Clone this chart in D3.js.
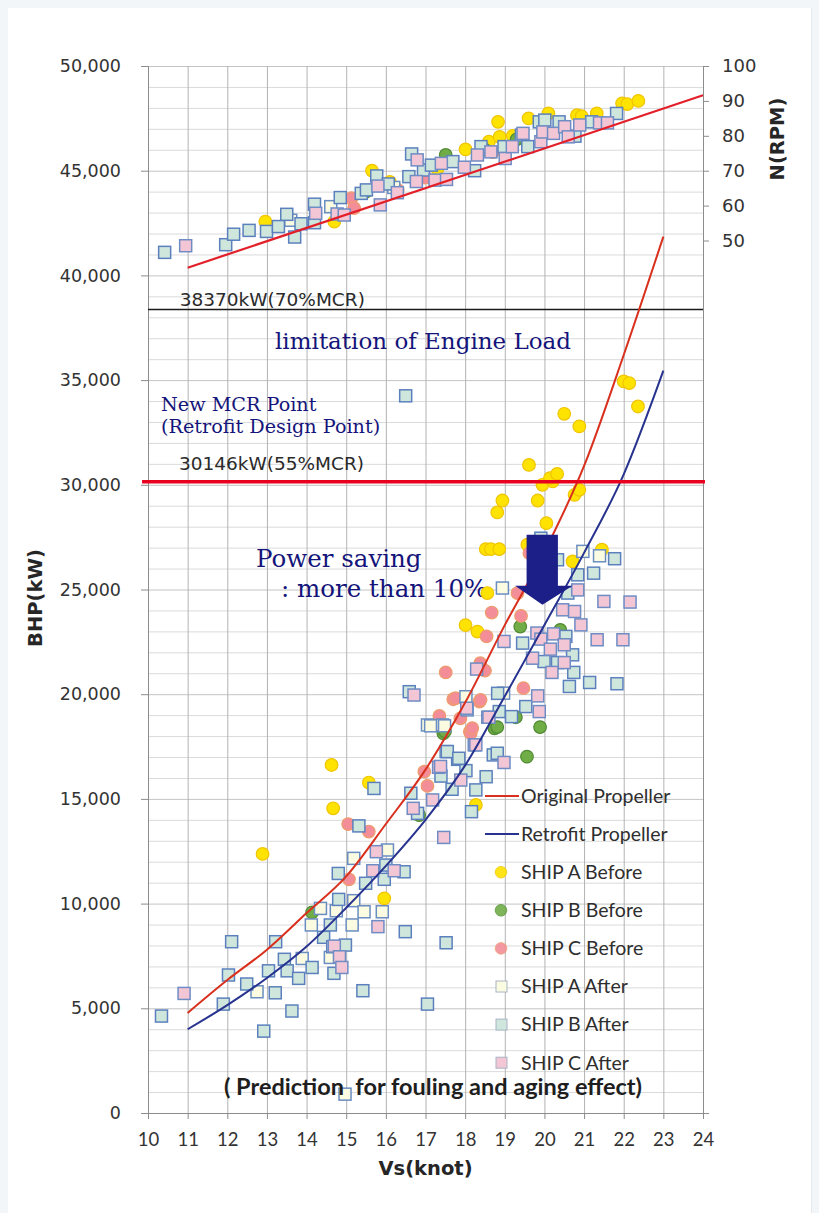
<!DOCTYPE html>
<html>
<head>
<meta charset="utf-8">
<script src="https://cdn.jsdelivr.net/npm/d3@7"></script>
<style>
  html, body { margin: 0; padding: 0; background: #f3f6f8; }
  svg { display: block; }
</style>
</head>
<body>
<div id="chart"></div>
<script>
const CHART_WIDTH = 819;
const CHART_HEIGHT = 1213;

// ---- data ----
const xTicks = [10, 11, 12, 13, 14, 15, 16, 17, 18, 19, 20, 21, 22, 23, 24]; // Vs(knot)
const bhpTicks = [0, 5000, 10000, 15000, 20000, 25000, 30000, 35000, 40000, 45000, 50000];
const rpmTicks = [50, 60, 70, 80, 90, 100];

const curveSpeed = [11, 12, 13, 14, 15, 16, 17, 18, 19, 20, 21, 22, 23];
const bhpOriginal = [4780, 6350, 7800, 9550, 11300, 13800, 16400, 19600, 23300, 26800, 30900, 36200, 41850];
const bhpRetrofit = [4000, 5150, 6450, 7950, 9800, 11800, 14000, 16600, 19900, 23300, 26750, 30500, 35450];

const rpmLineSpeed = [11, 24];
const rpmOriginal = [42.2, 91.6];

const mcr70 = 38370; // kW, 70%MCR
const mcr55 = 30146; // kW, 55%MCR (new MCR point)

// [speed, BHP kW]
const shipABeforeBhp = [[12.89,12370],[14.63,16620],[14.67,14550],[15.57,15780],[15.96,10250],[18.27,14710],[18.01,23300],[18.31,22990],[18.56,24830],[18.52,26930],[18.65,26930],[18.86,26930],[18.81,28680],[18.94,29250],[19.57,27140],[19.83,29250],[19.95,30000],[20.21,30160],[19.61,30950],[20.14,30320],[20.32,30520],[20.05,28170],[20.50,33390],[20.71,26340],[20.76,29520],[20.88,29760],[20.88,32790],[21.45,26900],[22.00,34940],[22.14,34860],[22.36,33740]];
const shipBBeforeBhp = [[14.14,9580],[16.84,14230],[17.45,18130],[17.49,18220],[18.74,18370],[18.81,18430],[19.28,18900],[19.39,23230],[19.56,17020],[19.89,18430],[20.40,23070]];
const shipCBeforeBhp = [[15.05,13800],[15.07,11160],[15.57,13440],[16.97,16300],[17.05,15620],[17.35,18960],[17.51,21040],[17.70,19760],[17.76,19810],[17.88,18850],[18.12,18210],[18.14,18140],[18.18,18380],[18.36,19650],[18.38,21480],[18.39,19730],[18.50,21130],[18.54,22760],[18.67,23900],[19.32,24830],[19.41,23740],[19.47,20290],[19.62,26740]];
const shipAAfterBhp = [[12.75,5790],[13.89,7380],[14.12,8980],[14.35,9770],[14.60,7430],[14.75,9660],[14.97,900],[15.15,8980],[15.19,10140],[15.19,12160],[15.45,9610],[15.91,9610],[16.04,12560],[17.05,18530],[17.13,18490],[17.43,18530],[17.48,18490],[17.52,17260],[18.02,19880],[18.05,19250],[18.94,25070],[18.97,20050],[20.97,26820],[21.39,26610]];
const shipBAfterBhp = [[10.34,4630],[11.90,5200],[12.03,6590],[12.11,8180],[12.49,6160],[12.92,3910],[13.04,6790],[13.21,5740],[13.22,8180],[13.63,4870],[13.44,7340],[13.51,6790],[13.80,6430],[14.14,6950],[14.43,8390],[14.60,8980],[14.81,10200],[14.66,7940],[14.69,6670],[14.98,8020],[15.42,5840],[15.70,15500],[15.32,13710],[14.80,11440],[15.49,10970],[16.00,11840],[15.96,11160],[16.46,11520],[16.49,8660],[17.05,5200],[17.52,8130],[16.80,14310],[16.63,15270],[17.39,16090],[17.67,15460],[17.81,16890],[18.02,16350],[18.27,15430],[18.16,14390],[18.71,17100],[18.53,16060],[16.59,20120],[18.82,20040],[16.50,34250],[19.91,27450],[20.33,26420],[21.77,26470],[20.84,25700],[21.24,25780],[20.59,24830],[19.45,22440],[20.54,22760],[19.99,21560],[20.71,21880],[20.33,21510],[20.74,21040],[20.63,20370],[21.14,20560],[17.55,17260],[17.84,16940],[18.81,17180],[18.86,19170],[19.17,18930],[19.53,19410],[21.83,20500]];
const shipCAfterBhp = [[10.91,5710],[14.70,7970],[14.83,7460],[14.89,6950],[15.76,12480],[15.67,11570],[16.21,11570],[15.80,8900],[17.46,13160],[16.69,14550],[17.18,14950],[17.89,15900],[17.33,16510],[18.23,17580],[18.57,18900],[16.71,19960],[20.84,24980],[21.50,24430],[20.46,24030],[20.76,23950],[20.92,23310],[21.33,22600],[18.98,22520],[19.81,22920],[19.91,22630],[20.23,22880],[19.70,21720],[20.15,22150],[20.50,22360],[20.50,21510],[20.19,21040],[18.29,21200],[18.04,19330],[19.83,19920],[17.38,16550],[18.27,17580],[18.98,16740],[18.60,18900],[19.87,19170],[21.98,22600],[22.16,24400]];

// [speed, N rpm]
const shipABeforeRpm = [[12.96,55.4],[14.70,55.4],[15.65,70.0],[16.10,66.8],[17.30,70.5],[18.01,76.1],[18.60,78.3],[18.83,84.0],[18.87,79.7],[19.20,80.0],[19.60,85.0],[20.10,86.4],[20.82,85.9],[20.94,85.6],[21.32,86.4],[21.96,89.3],[22.09,89.1],[22.37,90.0]];
const shipBBeforeRpm = [[15.50,64.0],[17.51,74.5],[18.50,76.0],[19.30,79.0]];
const shipCBeforeRpm = [[15.13,62.1],[15.20,59.3],[16.30,64.5],[17.00,68.0],[18.70,75.3]];
const shipAAfterRpm = [[13.60,55.8],[14.61,59.7],[16.20,65.2]];
const shipBAfterRpm = [[10.42,46.6],[11.96,48.8],[12.16,51.8],[12.55,52.9],[12.99,52.6],[13.29,54.0],[13.50,57.5],[13.70,51.0],[13.86,54.8],[14.20,55.1],[14.20,60.4],[14.85,62.3],[15.38,63.5],[15.51,64.5],[15.77,68.5],[16.06,66.2],[16.58,68.3],[16.65,74.8],[16.95,70.2],[17.15,71.6],[17.69,72.6],[18.24,70.0],[18.40,76.9],[18.98,76.9],[19.42,80.2],[19.58,76.9],[19.87,84.0],[20.01,84.5],[20.37,84.0],[20.77,79.9],[21.19,84.0],[21.82,86.4]];
const shipCAfterRpm = [[10.95,48.5],[14.23,57.8],[14.77,57.6],[14.95,57.3],[15.80,65.6],[15.86,60.2],[16.29,63.7],[16.77,66.9],[16.79,73.1],[17.24,67.3],[17.40,72.1],[17.53,67.5],[17.98,71.0],[18.31,74.5],[18.65,75.4],[19.01,73.5],[19.19,76.9],[19.46,80.7],[19.91,78.3],[19.96,81.1],[20.23,80.7],[20.51,82.6],[20.60,79.7],[20.89,83.1],[21.39,83.7],[21.59,83.7]];

// power saving arrow, in data units
const arrowSpeed = { shaftFrom: 19.55, shaftTo: 20.34, headFrom: 19.26, headTo: 20.71, tip: 19.95 };
const arrowKw = { top: 27610, head: 25175, tip: 24267 };

const legendNames = ["Original Propeller", "Retrofit Propeller", "SHIP A Before", "SHIP B Before", "SHIP C Before", "SHIP A After", "SHIP B After", "SHIP C After"];

// ---- styles ----
const STYLE = {
  "SHIP A Before": { shape: "circle", fill: "#ffe300", stroke: "#f0c400" },
  "SHIP B Before": { shape: "circle", fill: "#70ad47", stroke: "#4f8a32" },
  "SHIP C Before": { shape: "circle", fill: "#f38e98", stroke: "#ef9c6c" },
  "SHIP A After":  { shape: "square", fill: "#fbfbe2", stroke: "#6a8dc2" },
  "SHIP B After":  { shape: "square", fill: "#cfe6dc", stroke: "#5b80bd" },
  "SHIP C After":  { shape: "square", fill: "#f3c6d5", stroke: "#6f8cc4" }
};
const RED = "#d9301e";
const BLUE = "#27338f";
const NAVY = "#14147a";

const PLOT = { left: 148, right: 703, top: 66, bottom: 1113 };

const x = d3.scaleLinear().domain([10, 24]).range([PLOT.left, PLOT.right]);
const yBhp = d3.scaleLinear().domain([0, 50000]).range([PLOT.bottom, PLOT.top]);
const yRpm = d3.scaleLinear().domain([-200, 100]).range([PLOT.bottom, PLOT.top]); // only 50..100 labelled

var svg = d3.select("#chart")
  .append("svg")
  .attr("width", CHART_WIDTH)
  .attr("height", CHART_HEIGHT);

// white card on the grey page
svg.append("rect")
  .attr("x", 8).attr("y", 8)
  .attr("width", 803).attr("height", CHART_HEIGHT)
  .attr("fill", "#ffffff");
svg.append("line")
  .attr("x1", 811.5).attr("x2", 811.5).attr("y1", 8).attr("y2", CHART_HEIGHT)
  .attr("stroke", "#e4e9ed");

// gridlines
svg.append("g")
  .selectAll("line")
  .data(d3.range(0, 50001, 1000))
  .join("line")
    .attr("x1", PLOT.left).attr("x2", PLOT.right)
    .attr("y1", d => yBhp(d) + 0.5).attr("y2", d => yBhp(d) + 0.5)
    .attr("stroke", d => d % 5000 === 0 ? "#c4c4c4" : "#dadada");

svg.append("g")
  .selectAll("line")
  .data(xTicks)
  .join("line")
    .attr("x1", d => x(d) + 0.5).attr("x2", d => x(d) + 0.5)
    .attr("y1", PLOT.top).attr("y2", PLOT.bottom)
    .attr("stroke", "#b3b3b3");

// axes
function styleAxis(g, size, family) {
  g.select(".domain").attr("stroke", "#8c8c8c");
  g.selectAll(".tick line").attr("stroke", "#8c8c8c");
  g.selectAll(".tick text")
    .attr("fill", "#333")
    .style("font-family", family)
    .style("font-size", size + "px");
}

svg.append("g")
  .attr("transform", "translate(" + PLOT.left + ",0)")
  .call(d3.axisLeft(yBhp).tickValues(bhpTicks).tickSize(7).tickPadding(20).tickFormat(d3.format(",")))
  .call(g => styleAxis(g, 17.5, "'DejaVu Sans'"));

svg.append("g")
  .attr("transform", "translate(" + PLOT.right + ",0)")
  .call(d3.axisRight(yRpm).tickValues(rpmTicks).tickSize(6).tickPadding(13))
  .call(g => styleAxis(g, 18, "'DejaVu Sans'"));

svg.append("g")
  .attr("transform", "translate(0," + PLOT.bottom + ")")
  .call(d3.axisBottom(x).tickValues(xTicks).tickSize(6).tickPadding(14))
  .call(g => styleAxis(g, 18.5, "Lato"));

// axis titles
svg.append("text")
  .attr("x", (PLOT.left + PLOT.right) / 2).attr("y", 1175)
  .attr("text-anchor", "middle")
  .style("font-family", "'DejaVu Sans'").style("font-weight", "bold").style("font-size", "19.5px")
  .attr("fill", "#262626")
  .text("Vs(knot)");

svg.append("text")
  .attr("transform", "translate(42,598) rotate(-90)")
  .attr("text-anchor", "middle")
  .style("font-family", "'DejaVu Sans'").style("font-weight", "bold").style("font-size", "19.5px")
  .attr("fill", "#262626")
  .text("BHP(kW)");

svg.append("text")
  .attr("transform", "translate(784,139) rotate(-90)")
  .attr("text-anchor", "middle")
  .style("font-family", "'DejaVu Sans'").style("font-weight", "bold").style("font-size", "19.5px")
  .attr("fill", "#262626")
  .text("N(RPM)");

// engine load reference lines
svg.append("line")
  .attr("x1", PLOT.left).attr("x2", PLOT.right)
  .attr("y1", yBhp(mcr70)).attr("y2", yBhp(mcr70))
  .attr("stroke", "#1a1a1a").attr("stroke-width", 1.4);

svg.append("text")
  .attr("x", x(10.8)).attr("y", yBhp(mcr70) - 4)
  .style("font-family", "'DejaVu Sans'").style("font-size", "18.5px")
  .attr("fill", "#2a2a2a")
  .text("38370kW(70%MCR)");

svg.append("text")
  .attr("x", x(10.78)).attr("y", yBhp(mcr55) - 12)
  .style("font-family", "'DejaVu Sans'").style("font-size", "18.5px")
  .attr("fill", "#2a2a2a")
  .text("30146kW(55%MCR)");

function serifText(txt, xPos, yPos, size) {
  svg.append("text")
    .attr("x", xPos).attr("y", yPos)
    .style("font-family", "'DejaVu Serif'").style("font-size", size + "px")
    .attr("fill", NAVY)
    .text(txt);
}
serifText("limitation of Engine Load", 275, 349, 23);
serifText("New MCR Point", 161, 411, 19.2);
serifText("(Retrofit Design Point)", 161, 433, 19.2);
serifText("Power saving", 256, 567, 24.5);
serifText(": more than 10%", 281, 597, 24.5);

// scatter markers
function drawPoints(pts, yScale, name) {
  const s = STYLE[name];
  const g = svg.append("g").attr("class", name);
  if (s.shape === "circle") {
    g.selectAll("circle")
      .data(pts)
      .join("circle")
        .attr("cx", d => x(d[0]))
        .attr("cy", d => yScale(d[1]))
        .attr("r", 6.3)
        .attr("fill", s.fill)
        .attr("stroke", s.stroke)
        .attr("stroke-width", 1.2);
  } else {
    g.selectAll("rect")
      .data(pts)
      .join("rect")
        .attr("x", d => x(d[0]) - 6)
        .attr("y", d => yScale(d[1]) - 6)
        .attr("width", 12).attr("height", 12)
        .attr("fill", s.fill)
        .attr("stroke", s.stroke)
        .attr("stroke-width", 1.5);
  }
}

drawPoints(shipABeforeBhp, yBhp, "SHIP A Before");
drawPoints(shipBBeforeBhp, yBhp, "SHIP B Before");
drawPoints(shipCBeforeBhp, yBhp, "SHIP C Before");
drawPoints(shipABeforeRpm, yRpm, "SHIP A Before");
drawPoints(shipBBeforeRpm, yRpm, "SHIP B Before");
drawPoints(shipCBeforeRpm, yRpm, "SHIP C Before");
drawPoints(shipAAfterBhp, yBhp, "SHIP A After");
drawPoints(shipBAfterBhp, yBhp, "SHIP B After");
drawPoints(shipCAfterBhp, yBhp, "SHIP C After");
drawPoints(shipAAfterRpm, yRpm, "SHIP A After");
drawPoints(shipBAfterRpm, yRpm, "SHIP B After");
drawPoints(shipCAfterRpm, yRpm, "SHIP C After");

// propeller curves
const bhpLine = d3.line()
  .x(d => x(d[0]))
  .y(d => yBhp(d[1]))
  .curve(d3.curveMonotoneX);

svg.append("path")
  .datum(d3.zip(curveSpeed, bhpOriginal))
  .attr("d", bhpLine)
  .attr("fill", "none").attr("stroke", RED).attr("stroke-width", 2);

svg.append("path")
  .datum(d3.zip(curveSpeed, bhpRetrofit))
  .attr("d", bhpLine)
  .attr("fill", "none").attr("stroke", BLUE).attr("stroke-width", 2);

svg.append("path")
  .datum(d3.zip(rpmLineSpeed, rpmOriginal))
  .attr("d", d3.line().x(d => x(d[0])).y(d => yRpm(d[1])))
  .attr("fill", "none").attr("stroke", "#e3202a").attr("stroke-width", 2.2);

// new MCR line (thick red)
svg.append("line")
  .attr("x1", x(9.85)).attr("x2", x(24.05))
  .attr("y1", yBhp(mcr55)).attr("y2", yBhp(mcr55))
  .attr("stroke", "#e8001f").attr("stroke-width", 3.5);

// power saving arrow
svg.append("path")
  .attr("d", d3.line()([
    [x(arrowSpeed.shaftFrom), yBhp(arrowKw.top)],
    [x(arrowSpeed.shaftTo), yBhp(arrowKw.top)],
    [x(arrowSpeed.shaftTo), yBhp(arrowKw.head)],
    [x(arrowSpeed.headTo), yBhp(arrowKw.head)],
    [x(arrowSpeed.tip), yBhp(arrowKw.tip)],
    [x(arrowSpeed.headFrom), yBhp(arrowKw.head)],
    [x(arrowSpeed.shaftFrom), yBhp(arrowKw.head)]
  ]) + "Z")
  .attr("fill", "#1c1f87");

// legend
var legend = svg.append("g")
  .attr("id", "legend")
  .attr("transform", "translate(485,796)");

legendNames.forEach(function(name, i) {
  const row = legend.append("g").attr("transform", "translate(0," + (i * 38.1) + ")");
  if (i === 0 || i === 1) {
    row.append("line")
      .attr("x1", 0).attr("x2", 34).attr("y1", 0).attr("y2", 0)
      .attr("stroke", i === 0 ? RED : BLUE).attr("stroke-width", 2);
  } else {
    const s = STYLE[name];
    if (s.shape === "circle") {
      row.append("circle").attr("cx", 16).attr("cy", 0).attr("r", 5.8)
        .attr("fill", s.fill).attr("stroke", s.stroke).attr("stroke-width", 0.8).attr("opacity", 0.9);
    } else {
      row.append("rect").attr("x", 11).attr("y", -5.5).attr("width", 11).attr("height", 11)
        .attr("fill", s.fill).attr("stroke", "#a9b4c4").attr("stroke-width", 1);
    }
  }
  row.append("text")
    .attr("x", 36).attr("y", 0).attr("dy", "0.35em")
    .style("font-family", "Lato").style("font-size", "19.5px")
    .attr("fill", "#2e2e2e")
    .text(name);
});

svg.append("text")
  .attr("x", 433).attr("y", 1095)
  .attr("text-anchor", "middle")
  .style("font-family", "Lato").style("font-weight", "bold").style("font-size", "23.5px")
  .style("white-space", "pre")
  .attr("fill", "#1e1e1e")
  .text("( Prediction  for fouling and aging effect)");
</script>
</body>
</html>
